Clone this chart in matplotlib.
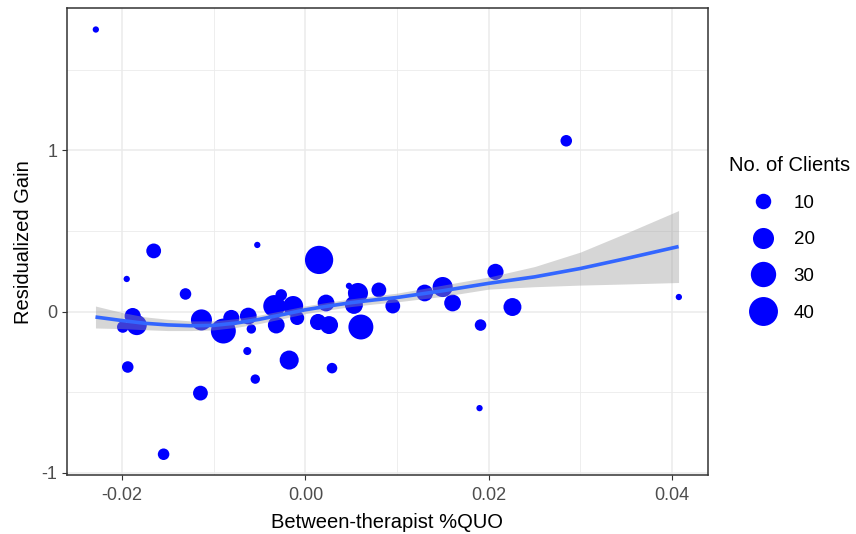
import numpy as np
import matplotlib
matplotlib.use("Agg")
import matplotlib.pyplot as plt
from matplotlib.lines import Line2D

plt.rcParams["font.family"] = ["Liberation Sans", "DejaVu Sans"]

# therapist-level points: between-therapist %QUO, residualized gain, no. of clients
quo = [-0.02286, 0.02845, -0.01949, -0.01655, -0.00525, 0.00149, -0.01308, -0.01884,
       -0.01992, -0.01840, -0.01938, -0.01547, -0.01145, -0.01134, -0.00895, -0.00808,
       -0.00623, -0.00590, -0.00634, -0.00547, -0.00177, 0.00290, -0.00340, -0.00264,
       -0.00134, -0.00318, -0.00090, 0.00225, 0.00138, 0.00258, 0.00475, 0.00573,
       0.00529, 0.00801, 0.00605, 0.00953, 0.01301, 0.01497, 0.01605, 0.02073,
       0.02258, 0.01910, 0.01899, 0.04073]
gain = [1.750, 1.060, 0.203, 0.377, 0.414, 0.321, 0.110, -0.027,
        -0.095, -0.083, -0.343, -0.884, -0.505, -0.051, -0.120, -0.039,
        -0.027, -0.107, -0.244, -0.418, -0.300, -0.350, 0.035, 0.104,
        0.035, -0.083, -0.039, 0.054, -0.064, -0.083, 0.160, 0.116,
        0.042, 0.135, -0.095, 0.035, 0.116, 0.153, 0.054, 0.247,
        0.029, -0.083, -0.598, 0.091]
clients = [1, 5, 1, 9, 1, 38, 5, 11,
           5, 18, 5, 5, 9, 20, 29, 11,
           12, 3, 2, 3, 16, 4, 22, 5,
           18, 12, 8, 12, 11, 14, 1, 18,
           14, 9, 29, 9, 12, 18, 12, 11,
           14, 5, 1, 1]

# loess smooth
smooth_x = [-0.0229, -0.02, -0.0175, -0.015, -0.0125, -0.01, -0.0075, -0.005, -0.0025, 0.0,
            0.0025, 0.005, 0.0075, 0.01, 0.015, 0.02, 0.025, 0.03, 0.035, 0.0407]
smooth_fit = [-0.033, -0.055, -0.072, -0.082, -0.087, -0.085, -0.070, -0.047, -0.018, 0.012,
              0.035, 0.056, 0.073, 0.088, 0.130, 0.176, 0.216, 0.268, 0.330, 0.404]
smooth_lo = [-0.101, -0.105, -0.112, -0.117, -0.117, -0.113, -0.097, -0.073, -0.043, -0.012,
             0.011, 0.032, 0.048, 0.061, 0.095, 0.140, 0.155, 0.165, 0.172, 0.181]
smooth_hi = [0.035, -0.005, -0.032, -0.047, -0.057, -0.057, -0.043, -0.021, 0.007, 0.036,
             0.059, 0.080, 0.098, 0.115, 0.165, 0.215, 0.280, 0.370, 0.488, 0.627]

legend_values = [10, 20, 30, 40]


def marker_diam(n):
    # diameter in points, linear in sqrt(n) like ggplot's scale_size
    return (2.05 + 4.25 * np.sqrt(n)) * 0.72


fig = plt.figure(figsize=(8.56, 5.34), dpi=100)
ax = fig.add_axes([0.0779, 0.1096, 0.7492, 0.8749])

ax.scatter(quo, gain, s=marker_diam(np.array(clients)) ** 2, c="#0000FF",
           edgecolors="none", zorder=3)
ax.fill_between(smooth_x, smooth_lo, smooth_hi, color="#999999", alpha=0.4,
                linewidth=0, zorder=4)
ax.plot(smooth_x, smooth_fit, color="#3366FF", linewidth=2.6, zorder=5,
        solid_capstyle="butt")

xr = max(quo) - min(quo)
yr = max(gain) - min(gain)
ax.set_xlim(min(quo) - 0.05 * xr, max(quo) + 0.05 * xr)
ax.set_ylim(min(gain) - 0.05 * yr, max(gain) + 0.05 * yr)

ax.set_xticks([-0.02, 0.0, 0.02, 0.04])
ax.set_xticklabels(["-0.02", "0.00", "0.02", "0.04"])
ax.set_xticks([-0.01, 0.01, 0.03], minor=True)
ax.set_yticks([-1, 0, 1])
ax.set_yticklabels(["-1", "0", "1"])
ax.set_yticks([-0.5, 0.5, 1.5], minor=True)

ax.grid(which="major", color="#EBEBEB", linewidth=1.1, zorder=0)
ax.grid(which="minor", color="#EBEBEB", linewidth=0.6, zorder=0)
ax.set_axisbelow(True)
ax.tick_params(which="major", direction="out", length=3.8, width=0.8,
               color="#333333", labelcolor="#4D4D4D", labelsize=13, pad=3)
ax.tick_params(axis="x", which="major", pad=4.5)
ax.tick_params(which="minor", length=0)
for sp in ax.spines.values():
    sp.set_color("#333333")
    sp.set_linewidth(1.1)

ax.set_xlabel("Between-therapist %QUO", fontsize=14.5, labelpad=6.5)
ax.set_ylabel("Residualized Gain", fontsize=14.5, labelpad=6)

handles = [Line2D([], [], linestyle="none", marker="o", color="#0000FF",
                  markeredgewidth=0, markersize=marker_diam(v)) for v in legend_values]
leg = fig.legend(handles, [str(v) for v in legend_values], title="No. of Clients",
                 loc="upper left", bbox_to_anchor=(0.8323, 0.7387), frameon=False,
                 fontsize=13.5, title_fontsize=14.5, labelspacing=1.04,
                 borderpad=0.88, handletextpad=-0.15, handlelength=3.6,
                 borderaxespad=0)
leg._legend_box.align = "left"

fig.savefig("out.png", dpi=100)
